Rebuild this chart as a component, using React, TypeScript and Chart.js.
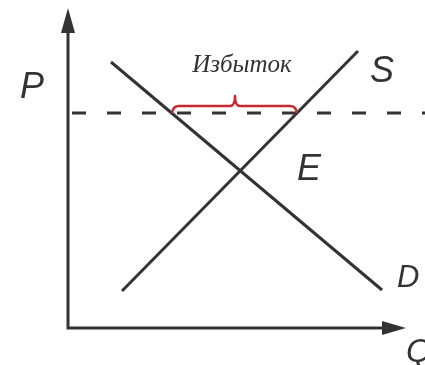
import React, { useEffect, useRef } from "react";
import { Chart, registerables } from "chart.js";

Chart.register(...registerables);

// Frame: Q on the horizontal axis, P on the vertical axis, origin at the axes corner
const qRange = [-6.8, 35.7];
const pRange = [-3.7, 32.8];

// Demand curve D (endpoints)
const demandQ = [4.3, 31.4];
const demandP = [26.6, 3.8];
// Supply curve S (endpoints)
const supplyQ = [5.4, 29.0];
const supplyP = [3.7, 27.7];
// Price above equilibrium (dashed)
const priceQ = [0.4, 35.7];
const priceP = [21.5, 21.5];
// Axes (ends of the arrows)
const axisQEnd = 33.8;
const axisPEnd = 32.0;
// Surplus brace: left end, peak, right end / end level, shoulder level, peak level
const surplusQ = [10.4, 16.7, 22.9];
const surplusP = [21.5, 22.2, 23.2];

const curveLabels = ["P", "S", "E", "D", "Q"];
const surplusLabel = "Избыток";

// layout of text (data units)
const labelAt: Record<string, [number, number, number]> = {
  P: [-4.8, 23.0, 36],
  S: [30.2, 24.6, 36],
  E: [22.9, 14.8, 36],
  D: [32.9, 4.1, 31],
  Q: [33.8, -3.4, 33],
};
const surplusLabelAt: [number, number] = [24.2 - 6.8, 25.6];

const INK = "#333333";
const RED = "#c8282e";

const pts = (qs: number[], ps: number[]) => qs.map((q, i) => ({ x: q, y: ps[i] }));

const overlay = {
  id: "overlay",
  afterDatasetsDraw(chart: any) {
    const ctx = chart.ctx as CanvasRenderingContext2D;
    const xs = chart.scales.x;
    const ys = chart.scales.y;
    const px = (q: number) => xs.getPixelForValue(q);
    const py = (p: number) => ys.getPixelForValue(p);
    ctx.save();
    // arrowheads
    ctx.fillStyle = INK;
    ctx.beginPath();
    ctx.moveTo(px(0), py(axisPEnd));
    ctx.lineTo(px(0) - 7, py(axisPEnd - 2.5));
    ctx.lineTo(px(0) + 7, py(axisPEnd - 2.5));
    ctx.closePath();
    ctx.fill();
    ctx.beginPath();
    ctx.moveTo(px(axisQEnd), py(0));
    ctx.lineTo(px(axisQEnd - 2.4), py(0) - 7);
    ctx.lineTo(px(axisQEnd - 2.4), py(0) + 7);
    ctx.closePath();
    ctx.fill();

    // brace
    const [qL, qM, qR] = surplusQ;
    const [pE, pS, pK] = surplusP;
    ctx.strokeStyle = RED;
    ctx.lineWidth = 2.5;
    ctx.lineJoin = "round";
    ctx.beginPath();
    ctx.moveTo(px(qL), py(pE));
    ctx.quadraticCurveTo(px(qL) + 1, py(pS), px(qL) + 7, py(pS));
    ctx.lineTo(px(qM) - 5, py(pS));
    ctx.quadraticCurveTo(px(qM), py(pS), px(qM), py(pK));
    ctx.quadraticCurveTo(px(qM), py(pS), px(qM) + 5, py(pS));
    ctx.lineTo(px(qR) - 7, py(pS));
    ctx.quadraticCurveTo(px(qR) - 1, py(pS), px(qR), py(pE));
    ctx.stroke();

    // labels
    ctx.fillStyle = INK;
    ctx.textAlign = "left";
    ctx.textBaseline = "alphabetic";
    curveLabels.forEach((t) => {
      const [q, p, s] = labelAt[t];
      ctx.font = `italic ${s}px "Liberation Sans", Arial, sans-serif`;
      ctx.fillText(t, px(q), py(p));
    });
    ctx.font = 'italic 25px "Liberation Serif", "Times New Roman", serif';
    ctx.textAlign = "center";
    ctx.fillText(surplusLabel, px(surplusLabelAt[0]), py(surplusLabelAt[1]));
    ctx.restore();
  },
};

export default function App() {
  const ref = useRef<HTMLCanvasElement>(null);
  useEffect(() => {
    if (!ref.current) return;
    const line = (data: any[], extra: any = {}) => ({
      data,
      showLine: true,
      borderColor: INK,
      borderWidth: 3,
      pointRadius: 0,
      tension: 0,
      ...extra,
    });
    const chart = new Chart(ref.current, {
      type: "scatter",
      data: {
        datasets: [
          line(
            [
              { x: 0, y: axisPEnd - 2 },
              { x: 0, y: 0 },
              { x: axisQEnd - 2, y: 0 },
            ],
            { borderJoinStyle: "miter" }
          ),
          line(pts(priceQ, priceP), { borderDash: [14, 21] }),
          line(pts(demandQ, demandP)),
          line(pts(supplyQ, supplyP)),
        ],
      },
      options: {
        animation: false,
        responsive: false,
        events: [],
        layout: { padding: 0 },
        plugins: { legend: { display: false }, tooltip: { enabled: false } },
        scales: {
          x: { type: "linear", min: qRange[0], max: qRange[1], display: false },
          y: { type: "linear", min: pRange[0], max: pRange[1], display: false },
        },
      },
      plugins: [overlay],
    });
    return () => chart.destroy();
  }, []);
  return (
    <div style={{ position: "absolute", left: 0, top: 0, width: 425, height: 365, background: "#fff" }}>
      <canvas ref={ref} width={425} height={365} style={{ display: "block" }} />
    </div>
  );
}
